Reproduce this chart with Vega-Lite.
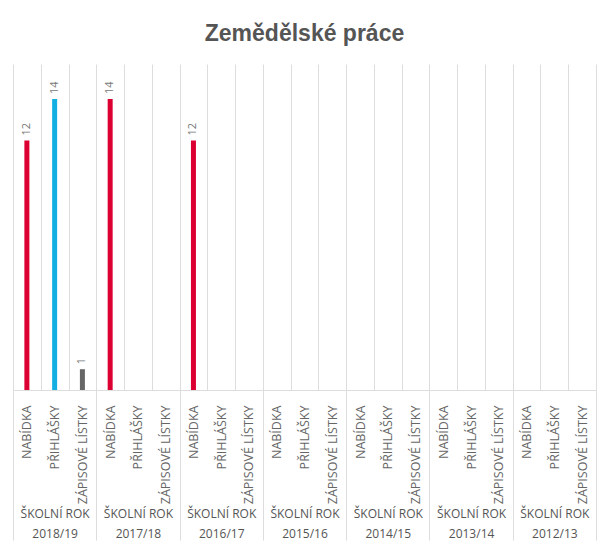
{
  "$schema": "https://vega.github.io/schema/vega-lite/v6.json",
  "width": 583,
  "height": 326,
  "autosize": "none",
  "padding": {"left": 13, "top": 64, "right": 9, "bottom": 163},
  "background": "white",
  "title": {"text": "Zemědělské práce", "font": "Liberation Sans", "fontSize": 23, "fontWeight": "bold", "color": "#555555", "offset": 18, "anchor": "middle"},
  "config": {"view": {"stroke": null}},
  "data": {"values": [
    {"year": "2018/19", "cat": "NABÍDKA", "key": "2018/19|NABÍDKA", "value": 12},
    {"year": "2018/19", "cat": "PŘIHLÁŠKY", "key": "2018/19|PŘIHLÁŠKY", "value": 14},
    {"year": "2018/19", "cat": "ZÁPISOVÉ LÍSTKY", "key": "2018/19|ZÁPISOVÉ LÍSTKY", "value": 1},
    {"year": "2017/18", "cat": "NABÍDKA", "key": "2017/18|NABÍDKA", "value": 14},
    {"year": "2017/18", "cat": "PŘIHLÁŠKY", "key": "2017/18|PŘIHLÁŠKY", "value": 0},
    {"year": "2017/18", "cat": "ZÁPISOVÉ LÍSTKY", "key": "2017/18|ZÁPISOVÉ LÍSTKY", "value": 0},
    {"year": "2016/17", "cat": "NABÍDKA", "key": "2016/17|NABÍDKA", "value": 12},
    {"year": "2016/17", "cat": "PŘIHLÁŠKY", "key": "2016/17|PŘIHLÁŠKY", "value": 0},
    {"year": "2016/17", "cat": "ZÁPISOVÉ LÍSTKY", "key": "2016/17|ZÁPISOVÉ LÍSTKY", "value": 0},
    {"year": "2015/16", "cat": "NABÍDKA", "key": "2015/16|NABÍDKA", "value": 0},
    {"year": "2015/16", "cat": "PŘIHLÁŠKY", "key": "2015/16|PŘIHLÁŠKY", "value": 0},
    {"year": "2015/16", "cat": "ZÁPISOVÉ LÍSTKY", "key": "2015/16|ZÁPISOVÉ LÍSTKY", "value": 0},
    {"year": "2014/15", "cat": "NABÍDKA", "key": "2014/15|NABÍDKA", "value": 0},
    {"year": "2014/15", "cat": "PŘIHLÁŠKY", "key": "2014/15|PŘIHLÁŠKY", "value": 0},
    {"year": "2014/15", "cat": "ZÁPISOVÉ LÍSTKY", "key": "2014/15|ZÁPISOVÉ LÍSTKY", "value": 0},
    {"year": "2013/14", "cat": "NABÍDKA", "key": "2013/14|NABÍDKA", "value": 0},
    {"year": "2013/14", "cat": "PŘIHLÁŠKY", "key": "2013/14|PŘIHLÁŠKY", "value": 0},
    {"year": "2013/14", "cat": "ZÁPISOVÉ LÍSTKY", "key": "2013/14|ZÁPISOVÉ LÍSTKY", "value": 0},
    {"year": "2012/13", "cat": "NABÍDKA", "key": "2012/13|NABÍDKA", "value": 0},
    {"year": "2012/13", "cat": "PŘIHLÁŠKY", "key": "2012/13|PŘIHLÁŠKY", "value": 0},
    {"year": "2012/13", "cat": "ZÁPISOVÉ LÍSTKY", "key": "2012/13|ZÁPISOVÉ LÍSTKY", "value": 0}
  ]},
  "layer": [
    {
      "mark": {"type": "bar", "width": 5},
      "encoding": {
        "x": {"field": "key", "type": "nominal", "sort": null,
          "scale": {"paddingInner": 0, "paddingOuter": 0},
          "axis": {"orient": "bottom", "title": null, "grid": true, "gridColor": "#dddddd", "tickBand": "extent", "ticks": false, "domain": false,
            "labelAngle": 270, "labelPadding": 15, "labelFont": "Open Sans", "labelFontSize": 12.5, "labelColor": "#666666",
            "labelExpr": "isValid(datum.value) ? split(datum.value, '|')[1] : ''"}},
        "y": {"field": "value", "type": "quantitative", "scale": {"domain": [0, 15.68], "nice": false}, "axis": null},
        "color": {"field": "cat", "type": "nominal",
          "scale": {"domain": ["NABÍDKA", "PŘIHLÁŠKY", "ZÁPISOVÉ LÍSTKY"], "range": ["#dc0032", "#12afe3", "#666666"]},
          "legend": null}
      }
    },
    {
      "mark": {"type": "text", "angle": 270, "align": "left", "baseline": "middle", "dx": 5, "font": "Open Sans", "fontSize": 11, "color": "#777777"},
      "encoding": {
        "x": {"field": "key", "type": "nominal", "sort": null, "scale": {"paddingInner": 0, "paddingOuter": 0}, "axis": null},
        "y": {"field": "value", "type": "quantitative"},
        "text": {"condition": {"test": "datum.value > 0", "field": "value", "type": "quantitative"}, "value": ""}
      }
    },
    {
      "mark": {"type": "bar", "opacity": 0},
      "encoding": {
        "x": {"field": "year", "type": "nominal", "sort": null,
          "scale": {"paddingInner": 0, "paddingOuter": 0},
          "axis": {"orient": "bottom", "title": null, "grid": false, "ticks": true, "tickBand": "extent", "tickSize": 150, "tickColor": "#dddddd",
            "domain": true, "domainColor": "#dddddd", "labelAngle": 0, "labelPadding": -32, "labelFont": "Open Sans", "labelFontSize": 12,
            "labelColor": "#555555", "labelLineHeight": 20, "labelBaseline": "top",
            "labelExpr": "isValid(datum.value) ? ['ŠKOLNÍ ROK', datum.value] : ''"}},
        "y": {"field": "value", "type": "quantitative", "stack": null}
      }
    }
  ],
  "resolve": {"scale": {"x": "independent"}, "axis": {"x": "independent"}}
}
